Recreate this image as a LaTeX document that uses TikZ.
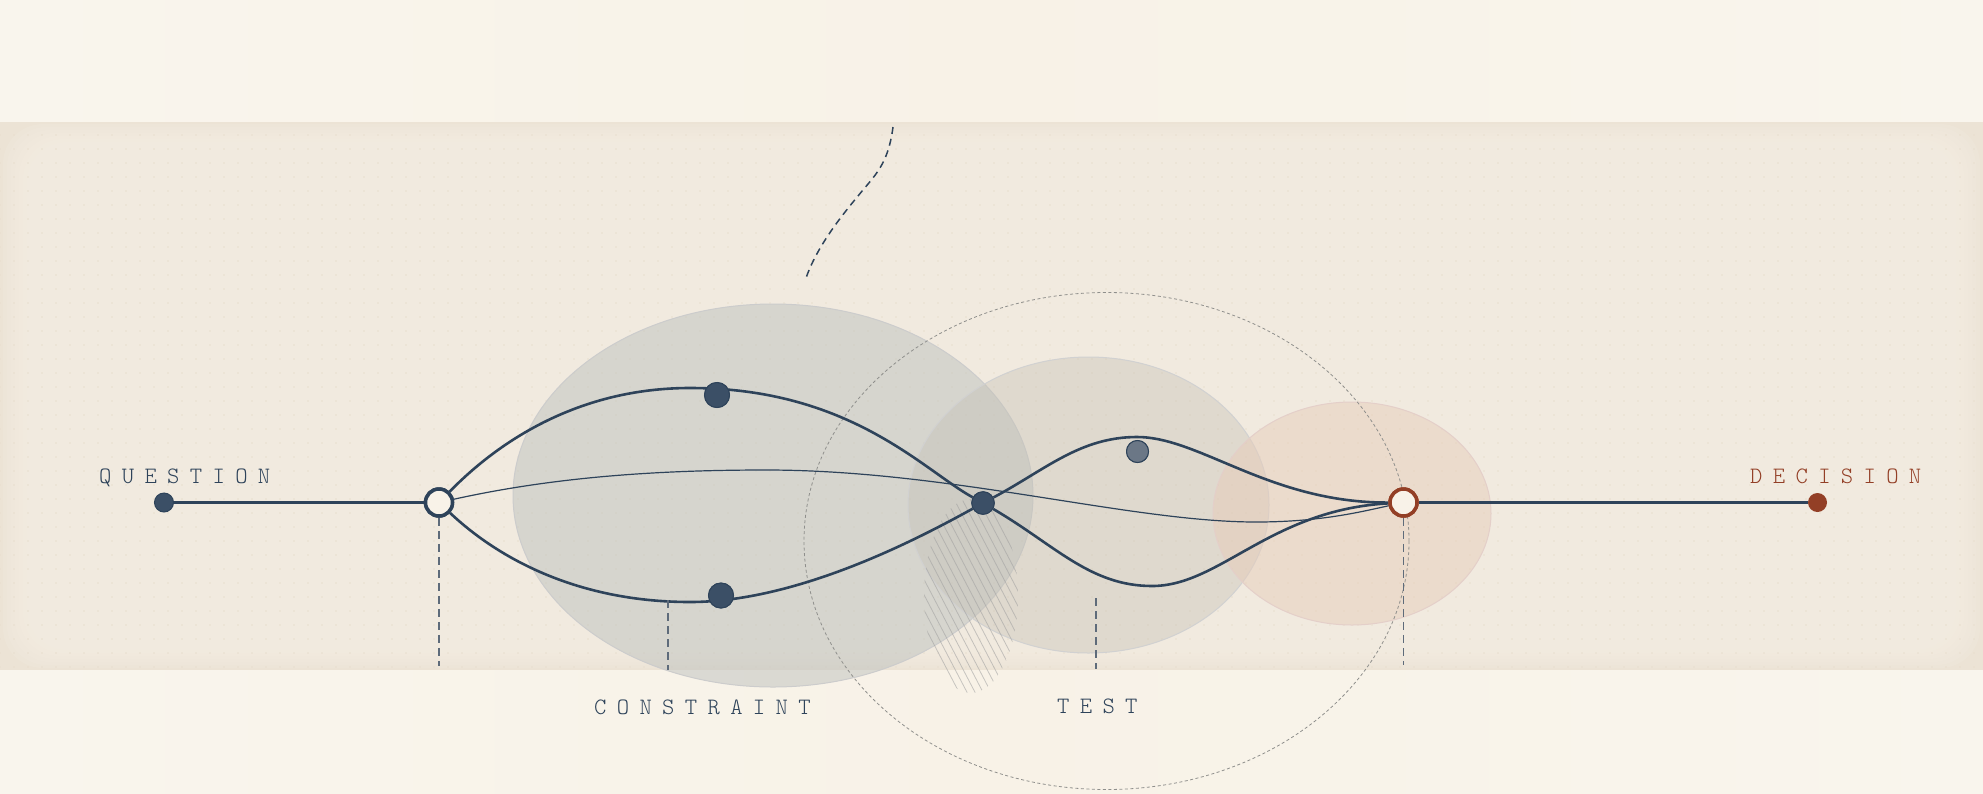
\documentclass[tikz,border=0pt]{standalone}
\usepackage{fontspec}
\newfontfamily\lblfont{lmmonolt10-regular.otf}[LetterSpace=44]
\usetikzlibrary{patterns}
\definecolor{navy}{HTML}{2E435A}
\definecolor{dotfill}{HTML}{3B4F66}
\definecolor{rust}{HTML}{933F26}
\definecolor{bgedge}{HTML}{F9F5ED}
\definecolor{bgmid}{HTML}{F8F2E7}
\definecolor{bandedge}{HTML}{ECE3D5}
\definecolor{bandin}{HTML}{F5EEE3}
\definecolor{gridc}{HTML}{E8DECE}
\definecolor{ellA}{HTML}{BDC1BE}
\definecolor{ellB}{HTML}{C4C0B5}
\definecolor{ellC}{HTML}{E7CDBA}
\definecolor{cream}{HTML}{F8F2E8}
\definecolor{dashgray}{HTML}{5E6B7A}
\definecolor{ringgray}{HTML}{8F8F8C}
\definecolor{lightdot}{HTML}{6B7786}
\pgfdeclarepatternformonly{bgdots}{\pgfqpoint{-1pt}{-1pt}}{\pgfqpoint{1pt}{1pt}}{\pgfqpoint{14pt}{14pt}}{\pgfpathcircle{\pgfqpoint{0pt}{0pt}}{0.9pt}\pgfusepath{fill}}
\tikzset{
  lbl/.style={font=\lblfont\fontsize{23.5}{23.5}\selectfont, inner sep=0pt, anchor=base west},
  fdot/.style={circle, fill=dotfill, draw=navy, line width=1pt, inner sep=0pt, minimum size=#1},
  ldot/.style={circle, fill=lightdot, draw=navy, line width=1pt, inner sep=0pt, minimum size=22pt},
  opennode/.style={circle, fill=cream, draw=#1, line width=3.5pt, inner sep=0pt, minimum size=27pt},
  thickcurve/.style={draw=navy, line width=2.6pt},
  thincurve/.style={draw=navy, line width=1.2pt},
  vdash/.style={draw=dashgray, line width=1.6pt, dash pattern=on 8pt off 5pt},
  blob/.style={fill=#1, fill opacity=0.5},
}
\begin{document}
\begin{tikzpicture}[x=1pt,y=-1pt]
\useasboundingbox (0,0) rectangle (1983,793);
% backgrounds
\shade[left color=bgedge, right color=bgedge, middle color=bgmid] (0,0) rectangle (1983,793);
\fill[bandedge] (0,122) rectangle (1983,670);
\foreach \i in {0,...,13}{
  \fill[bandin, fill opacity=0.22, rounded corners=40pt]
    ({3+\i*4},{124+\i*3}) rectangle ({1980-\i*4},{668-\i*3});
}
\fill[pattern=bgdots, pattern color=gridc] (0,122) rectangle (1983,670);
% translucent ellipses
\fill[blob=ellA] (773,495.5) ellipse [x radius=260, y radius=191.5];
\draw[black!20, line width=1pt] (773,495.5) ellipse [x radius=260, y radius=191.5];
\fill[blob=ellB, fill opacity=0.4] (1088.5,505) ellipse [x radius=180.5, y radius=148];
\draw[black!18, line width=1pt] (1088.5,505) ellipse [x radius=180.5, y radius=148];
\fill[blob=ellC] (1352,513.5) ellipse [x radius=139, y radius=111.5];
\draw[rust!25, line width=1pt] (1352,513.5) ellipse [x radius=139, y radius=111.5];
% big dashed ring
\draw[ringgray, line width=0.8pt, dash pattern=on 3pt off 2.5pt] (1106.5,541) ellipse [x radius=302.5, y radius=248.5];
% hatching
\begin{scope}
  \clip (971,596) ellipse [x radius=47, y radius=97];
  \foreach \k in {0,...,30}{
    \draw[gray!75, line width=0.8pt, opacity=0.55] ({800+\k*8},480) -- ({800+\k*8+114},{480+218});
  }
\end{scope}
% nodes
\node[fdot=19pt] (qd) at (164,502.5) {};
\node[opennode=navy] (qn) at (439,502.5) {};
\node[fdot=25pt] (up) at (717,395) {};
\node[fdot=25pt] (lo) at (721,595.5) {};
\node[fdot=22.5pt] (mid) at (983,503) {};
\node[ldot] (lt) at (1137.5,451.5) {};
\node[opennode=rust] (rn) at (1403.5,502.5) {};
\node[circle, fill=rust, inner sep=0pt, minimum size=19pt] (dd) at (1817.5,502.5) {};
% connectors
\draw[navy, line width=2.2pt] (qd) -- (qn);
\draw[navy, line width=2.2pt] (rn) -- (dd);
\draw[thickcurve] (qn) .. controls (500,440) and (580,388) .. (690,388)
   .. controls (850,388) and (923,470) .. (mid);
\draw[thickcurve] (qn) .. controls (500,560) and (580,602) .. (690,602)
   .. controls (800,602) and (923,536) .. (mid);
\draw[thickcurve] (mid) .. controls (1055,545) and (1090,586) .. (1152,586)
   .. controls (1220,586) and (1270,510) .. (rn);
\draw[thickcurve] (mid) .. controls (1045,470) and (1080,437) .. (1137,437)
   .. controls (1200,437) and (1270,503) .. (rn);
\draw[thincurve] (qn) .. controls (550,478) and (650,470) .. (766,470)
   .. controls (950,470) and (1130,522) .. (1256,522)
   .. controls (1320,522) and (1360,512) .. (rn);
% node tops over the curves
\node[fdot=25pt] at (up) {};
\node[fdot=25pt] at (lo) {};
\node[fdot=22.5pt] at (mid) {};
\node[ldot] at (lt) {};
\node[opennode=navy] at (qn) {};
\node[opennode=rust] at (rn) {};
% dashed drop lines
\coordinate (qb) at (439,666);
\coordinate (ct) at (668,600);
\coordinate (cb) at (668,670);
\coordinate (tt) at (1096,598);
\coordinate (tb) at (1096,669);
\coordinate (rb) at (1403.5,665);
\draw[vdash] (qn) -- (qb);
\draw[vdash] (ct) -- (cb);
\draw[vdash] (tt) -- (tb);
\draw[vdash] (rn) -- (rb);
% top dashed curve
\coordinate (ta) at (893,127);
\coordinate (tz) at (805,281);
\draw[navy, line width=1.5pt, dash pattern=on 7pt off 5pt] (ta) .. controls (888,165) and (875,175) .. (858,196) .. controls (838,220) and (815,250) .. (tz);
% labels
\node[lbl, text=navy] (lq) at (99,483) {QUESTION};
\node[lbl, text=rust] (ld) at (1750,483) {DECISION};
\node[lbl, text=navy] (lc) at (594,714) {CONSTRAINT};
\node[lbl, text=navy] (lt2) at (1057,713) {TEST};
\end{tikzpicture}
\end{document}
